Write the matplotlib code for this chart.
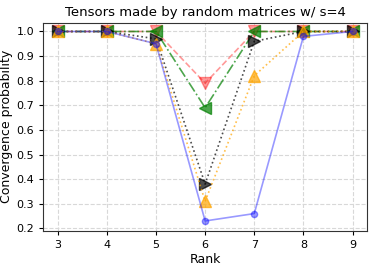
import matplotlib
matplotlib.use('Agg')
import matplotlib.pyplot as plt

ranks = [3, 4, 5, 6, 7, 8, 9]
red_vals = [1.0, 1.0, 1.0, 0.79, 1.0, 1.0, 1.0]
green_vals = [1.0, 1.0, 1.0, 0.69, 1.0, 1.0, 1.0]
black_vals = [1.0, 1.0, 0.97, 0.38, 0.96, 1.0, 1.0]
orange_vals = [1.0, 1.0, 0.95, 0.31, 0.82, 1.0, 1.0]
blue_vals = [1.0, 1.0, 0.95, 0.23, 0.26, 0.98, 1.0]

plt.rcParams['font.size'] = 8
fig = plt.figure(figsize=(3.74, 2.69), dpi=100)
ax = fig.add_axes([0.115, 0.142, 0.867, 0.773])

ax.plot(ranks, red_vals, 'v--', color='red', alpha=0.4, markersize=8.5, lw=1.2)
ax.plot(ranks, green_vals, '<-.', color='green', alpha=0.7, markersize=8.5, lw=1.2)
ax.plot(ranks, black_vals, '>:', color='black', alpha=0.7, markersize=8.5, lw=1.2)
ax.plot(ranks, orange_vals, '^:', color='orange', alpha=0.7, markersize=8.5, lw=1.2)
ax.plot(ranks, blue_vals, 'o-', color='blue', alpha=0.4, markersize=4.5, lw=1.2)

ax.set_xlim(2.7, 9.3)
ax.set_ylim(0.19, 1.035)
ax.set_xticks(ranks)
ax.set_yticks([0.2, 0.3, 0.4, 0.5, 0.6, 0.7, 0.8, 0.9, 1.0])
ax.tick_params(length=3, labelsize=8)
ax.grid(True, linestyle='--', color='#d8d8d8', lw=0.8)
for s in ax.spines.values():
    s.set_color('#333333')

ax.set_xlabel('Rank', fontsize=9, labelpad=2)
ax.set_ylabel('Convergence probability', fontsize=9, labelpad=2)
ax.set_title('Tensors made by random matrices w/ s=4', fontsize=9.5, pad=5)

fig.savefig('out.png', dpi=100)
